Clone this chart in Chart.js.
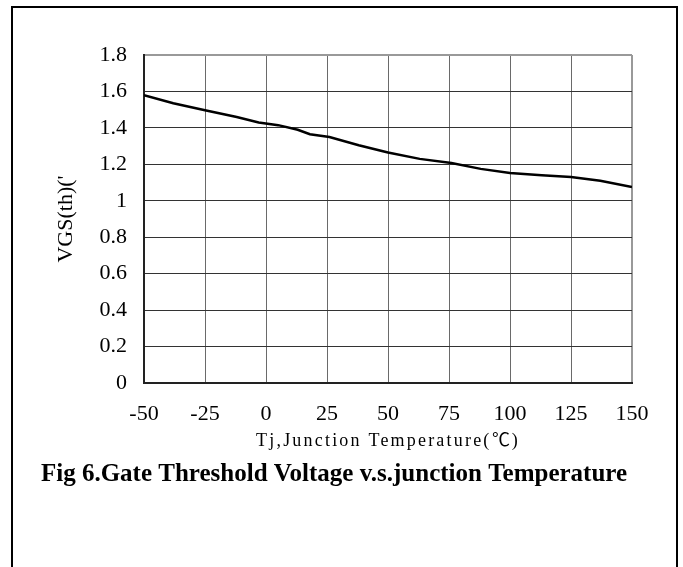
<!DOCTYPE html>
<html>
<head>
<meta charset="utf-8">
<script src="https://cdn.jsdelivr.net/npm/chart.js@4/dist/chart.umd.min.js"></script>
<style>
  @font-face { font-family: 'DegSign'; src: local('Noto Sans CJK SC'), local('NotoSansCJKsc-Regular'), local('Noto Sans CJK SC Regular'); unicode-range: U+2103; }
  html, body { margin: 0; padding: 0; background: #fff; overflow: hidden; }
  #wrap { position: relative; width: 683px; height: 567px; }
  #frame { position: absolute; left: 11px; top: 6px; width: 663px; height: 620px; border: 2px solid #000; box-sizing: content-box; }
  canvas { position: absolute; left: 0; top: 0; }
</style>
</head>
<body>
<div id="wrap">
  <div id="frame"></div>
  <canvas id="c" width="683" height="567"></canvas>
</div>
<script>
// ---- data ----
const temperatures = [-50, -38, -25, -12, -3, 5, 13, 18, 26, 38, 50, 63, 76, 88, 100, 113, 125, 137, 150];
const vgsThreshold = [1.58, 1.535, 1.497, 1.46, 1.43, 1.415, 1.39, 1.365, 1.35, 1.305, 1.265, 1.23, 1.207, 1.175, 1.153, 1.14, 1.13, 1.11, 1.075];
const xTickLabels = ['-50', '-25', '0', '25', '50', '75', '100', '125', '150'];
const yTickLabels = ['0', '0.2', '0.4', '0.6', '0.8', '1', '1.2', '1.4', '1.6', '1.8'];
const xTitle = 'Tj,Junction Temperature(℃)';
const yTitle = "VGS(th)('";
const figTitle = 'Fig 6.Gate Threshold Voltage v.s.junction Temperature';

const SERIF = "'Liberation Serif', 'Noto Sans CJK SC', serif";
const XTITLE_FONT = "'DegSign', 'Liberation Serif', 'Noto Sans CJK SC', serif";

const points = temperatures.map((t, i) => ({ x: t, y: vgsThreshold[i] }));

const xTitleSpacing = {
  id: 'xTitleSpacing',
  beforeDraw(chart) {
    const s = chart.scales.x;
    if (s && !s._spacingPatched) {
      const orig = s.drawTitle.bind(s);
      s.drawTitle = function () {
        const ctx = this.ctx;
        ctx.save();
        ctx.letterSpacing = '2.2px';
        orig();
        ctx.restore();
      };
      s._spacingPatched = true;
    }
  }
};

const figCaption = {
  id: 'figCaption',
  afterDraw(chart) {
    const ctx = chart.ctx;
    ctx.save();
    ctx.font = "bold 25px " + SERIF;
    ctx.fillStyle = '#000';
    ctx.textAlign = 'center';
    ctx.textBaseline = 'middle';
    ctx.letterSpacing = '0px';
    ctx.fillText(figTitle, 334, 475);
    ctx.restore();
  }
};

function build() {
  new Chart(document.getElementById('c'), {
    type: 'line',
    data: {
      datasets: [{
        data: points,
        borderColor: '#000',
        borderWidth: 2.5,
        pointRadius: 0,
        tension: 0,
        fill: false
      }]
    },
    options: {
      responsive: false,
      animation: false,
      devicePixelRatio: 1,
      layout: { padding: { top: 55, right: 51, left: 0, bottom: 0 } },
      plugins: { legend: { display: false }, tooltip: { enabled: false }, title: { display: false } },
      scales: {
        x: {
          type: 'linear',
          min: -50, max: 150,
          afterFit(scale) { scale.height = 184; },
          ticks: {
            stepSize: 25,
            padding: 18,
            color: '#000',
            font: { family: SERIF, size: 22 },
            maxRotation: 0,
            callback: (v) => { const i = Math.round((v + 50) / 25); return xTickLabels[i]; }
          },
          grid: {
            drawTicks: false,
            color: (c) => (c.tick && c.tick.value === 150 ? '#999' : '#6a6a6a'),
            lineWidth: (c) => (c.tick && c.tick.value === 150 ? 2 : 1)
          },
          border: { display: true, color: '#222', width: 2 },
          title: {
            display: true,
            text: xTitle,
            color: '#000',
            font: { family: XTITLE_FONT, size: 18 },
            padding: { top: 0, bottom: 115 }
          }
        },
        y: {
          min: 0, max: 1.8,
          afterFit(scale) { scale.width = 144; },
          ticks: {
            stepSize: 0.2,
            padding: 17,
            color: '#000',
            font: { family: SERIF, size: 22 },
            callback: (v) => { const i = Math.round(v / 0.2); return yTickLabels[i]; }
          },
          grid: {
            drawTicks: false,
            color: (c) => (c.tick && Math.abs(c.tick.value - 1.8) < 1e-6 ? '#999' : '#333'),
            lineWidth: (c) => (c.tick && Math.abs(c.tick.value - 1.8) < 1e-6 ? 2 : 1)
          },
          border: { display: true, color: '#222', width: 2 },
          title: {
            display: true,
            text: yTitle,
            color: '#000',
            font: { family: SERIF, size: 22 },
            padding: { top: 53, bottom: 0 }
          }
        }
      }
    },
    plugins: [xTitleSpacing, figCaption]
  });
}

if (document.fonts && document.fonts.load) {
  document.fonts.load("18px 'DegSign'", '℃').then(build, build);
} else {
  build();
}
</script>
</body>
</html>
